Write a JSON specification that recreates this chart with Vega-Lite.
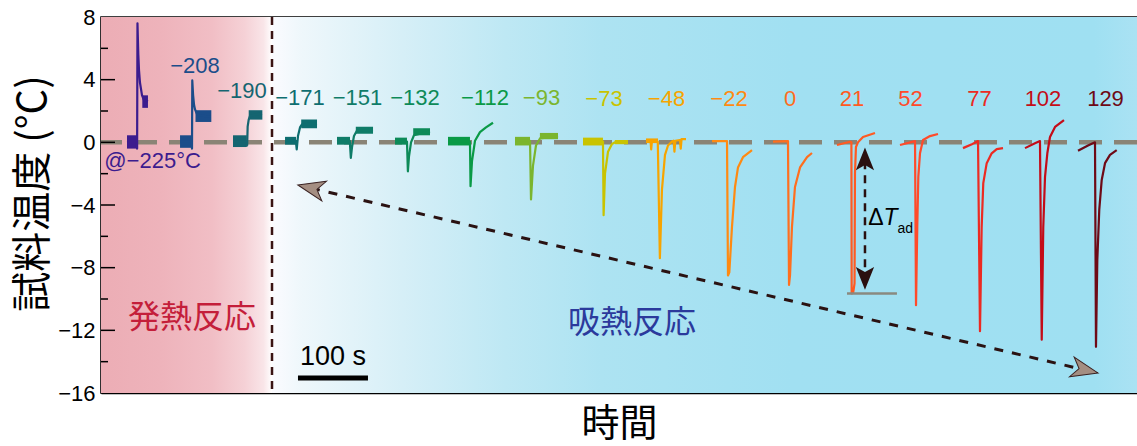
{
  "$schema": "https://vega.github.io/schema/vega-lite/v6.json",
  "width": 1036,
  "height": 376,
  "autosize": "none",
  "padding": {"left": 101, "top": 17, "right": 0, "bottom": 53},
  "background": "white",
  "config": {"view": {"stroke": "black", "strokeWidth": 1.5}},
  "data": {"values": [{"one": 1}]},
  "datasets": {
    "curves": [
      {"seg":"-225","t":37.1,"v":0.05},{"seg":"-225","t":51.2,"v":0.05},{"seg":"-225","t":51.6,"v":-0.4},{"seg":"-225","t":52.1,"v":7.6},{"seg":"-225","t":53.3,"v":5.6},{"seg":"-225","t":54.3,"v":4.6},{"seg":"-225","t":55.7,"v":3.8},{"seg":"-225","t":58.6,"v":3.0},{"seg":"-225","t":61.4,"v":2.7},{"seg":"-225","t":67.1,"v":2.6},
      {"seg":"-208","t":112.9,"v":0.05},{"seg":"-208","t":129.6,"v":0.05},{"seg":"-208","t":130.0,"v":-0.4},{"seg":"-208","t":130.4,"v":3.95},{"seg":"-208","t":131.6,"v":3.0},{"seg":"-208","t":132.9,"v":2.4},{"seg":"-208","t":134.3,"v":2.1},{"seg":"-208","t":137.1,"v":1.8},{"seg":"-208","t":141.4,"v":1.7},{"seg":"-208","t":157.1,"v":1.65},
      {"seg":"-190","t":188.6,"v":0.05},{"seg":"-190","t":208.3,"v":0.05},{"seg":"-190","t":208.8,"v":-0.2},{"seg":"-190","t":209.5,"v":1.0},{"seg":"-190","t":211.0,"v":1.45},{"seg":"-190","t":213.0,"v":1.7},{"seg":"-190","t":230.0,"v":1.85},
      {"seg":"-171","t":262.9,"v":0.1},{"seg":"-171","t":278.3,"v":0.1},{"seg":"-171","t":279.6,"v":-0.45},{"seg":"-171","t":281.4,"v":0.4},{"seg":"-171","t":284.3,"v":0.95},{"seg":"-171","t":287.1,"v":1.15},{"seg":"-171","t":308.6,"v":1.2},
      {"seg":"-151","t":337.1,"v":0.1},{"seg":"-151","t":355.4,"v":0.1},{"seg":"-151","t":356.9,"v":-1.0},{"seg":"-151","t":358.6,"v":-0.3},{"seg":"-151","t":361.4,"v":0.4},{"seg":"-151","t":365.7,"v":0.75},{"seg":"-151","t":388.6,"v":0.8},
      {"seg":"-132","t":420.0,"v":0.05},{"seg":"-132","t":437.1,"v":0.05},{"seg":"-132","t":438.4,"v":-1.85},{"seg":"-132","t":440.0,"v":-0.9},{"seg":"-132","t":442.9,"v":0.0},{"seg":"-132","t":447.1,"v":0.45},{"seg":"-132","t":470.0,"v":0.7},
      {"seg":"-112","t":495.7,"v":0.05},{"seg":"-112","t":527.1,"v":0.05},{"seg":"-112","t":527.9,"v":-2.8},{"seg":"-112","t":530.0,"v":-1.2},{"seg":"-112","t":534.3,"v":0.1},{"seg":"-112","t":541.4,"v":0.65},{"seg":"-112","t":550.0,"v":0.95},{"seg":"-112","t":560.0,"v":1.25},
      {"seg":"-93","t":591.4,"v":0.1},{"seg":"-93","t":612.9,"v":0.1},{"seg":"-93","t":614.3,"v":-3.65},{"seg":"-93","t":617.1,"v":-1.5},{"seg":"-93","t":621.4,"v":-0.2},{"seg":"-93","t":627.1,"v":0.25},{"seg":"-93","t":652.9,"v":0.4},
      {"seg":"-73","t":688.6,"v":0.05},{"seg":"-73","t":717.1,"v":0.05},{"seg":"-73","t":718.0,"v":-4.65},{"seg":"-73","t":720.0,"v":-2.0},{"seg":"-73","t":724.3,"v":-0.6},{"seg":"-73","t":730.0,"v":-0.1},{"seg":"-73","t":734.3,"v":0.0},{"seg":"-73","t":752.9,"v":0.0},
      {"seg":"-48","t":778.6,"v":0.1},{"seg":"-48","t":785.0,"v":0.1},{"seg":"-48","t":786.0,"v":-0.45},{"seg":"-48","t":787.1,"v":0.1},{"seg":"-48","t":795.4,"v":0.05},{"seg":"-48","t":798.4,"v":-7.4},{"seg":"-48","t":801.4,"v":-3.0},{"seg":"-48","t":805.7,"v":-0.8},{"seg":"-48","t":810.0,"v":-0.2},{"seg":"-48","t":815.7,"v":0.05},{"seg":"-48","t":818.0,"v":0.1},{"seg":"-48","t":819.2,"v":-0.6},{"seg":"-48","t":820.5,"v":0.1},{"seg":"-48","t":827.0,"v":0.15},{"seg":"-48","t":828.2,"v":-0.4},{"seg":"-48","t":829.4,"v":0.2},{"seg":"-48","t":835.7,"v":0.2},
      {"seg":"-22","t":872.9,"v":0.08},{"seg":"-22","t":894.3,"v":0.08},{"seg":"-22","t":895.7,"v":-8.5},{"seg":"-22","t":897.6,"v":-8.3},{"seg":"-22","t":901.4,"v":-5.4},{"seg":"-22","t":905.7,"v":-2.85},{"seg":"-22","t":910.0,"v":-1.6},{"seg":"-22","t":917.1,"v":-0.95},{"seg":"-22","t":930.0,"v":-0.5},
      {"seg":"0","t":960.0,"v":0.05},{"seg":"0","t":981.4,"v":0.08},{"seg":"0","t":982.9,"v":-9.1},{"seg":"0","t":984.3,"v":-8.5},{"seg":"0","t":987.1,"v":-5.4},{"seg":"0","t":991.4,"v":-2.85},{"seg":"0","t":998.6,"v":-1.6},{"seg":"0","t":1008.6,"v":-0.94},{"seg":"0","t":1015.7,"v":-0.68},
      {"seg":"21","t":1051.4,"v":-0.17},{"seg":"21","t":1070.0,"v":0.04},{"seg":"21","t":1072.0,"v":0.0},{"seg":"21","t":1072.4,"v":-9.65},{"seg":"21","t":1074.5,"v":-9.6},{"seg":"21","t":1076.5,"v":-9.0},{"seg":"21","t":1077.1,"v":-2.0},{"seg":"21","t":1078.5,"v":-0.3},{"seg":"21","t":1081.4,"v":0.0},{"seg":"21","t":1088.6,"v":0.34},{"seg":"21","t":1105.7,"v":0.6},
      {"seg":"52","t":1141.4,"v":-0.17},{"seg":"52","t":1162.9,"v":0.08},{"seg":"52","t":1164.3,"v":-10.4},{"seg":"52","t":1166.1,"v":-5.4},{"seg":"52","t":1167.6,"v":-2.2},{"seg":"52","t":1170.0,"v":-0.7},{"seg":"52","t":1174.3,"v":0.15},{"seg":"52","t":1184.3,"v":0.4},{"seg":"52","t":1195.7,"v":0.53},
      {"seg":"77","t":1231.4,"v":-0.37},{"seg":"77","t":1245.0,"v":-0.1},{"seg":"77","t":1252.9,"v":0.08},{"seg":"77","t":1255.7,"v":-12.05},{"seg":"77","t":1258.1,"v":-5.4},{"seg":"77","t":1260.4,"v":-2.6},{"seg":"77","t":1265.3,"v":-1.33},{"seg":"77","t":1272.4,"v":-0.7},{"seg":"77","t":1279.6,"v":-0.43},{"seg":"77","t":1288.6,"v":-0.37},
      {"seg":"102","t":1320.0,"v":-0.37},{"seg":"102","t":1335.0,"v":-0.05},{"seg":"102","t":1341.4,"v":0.08},{"seg":"102","t":1343.9,"v":-12.6},{"seg":"102","t":1346.1,"v":-5.4},{"seg":"102","t":1348.6,"v":-2.2},{"seg":"102","t":1351.9,"v":-0.7},{"seg":"102","t":1355.7,"v":0.34},{"seg":"102","t":1362.9,"v":0.98},{"seg":"102","t":1375.7,"v":1.42},
      {"seg":"129","t":1395.7,"v":-0.54},{"seg":"129","t":1410.0,"v":-0.2},{"seg":"129","t":1420.0,"v":0.0},{"seg":"129","t":1421.4,"v":-13.05},{"seg":"129","t":1423.3,"v":-7.5},{"seg":"129","t":1426.1,"v":-4.3},{"seg":"129","t":1429.6,"v":-2.4},{"seg":"129","t":1434.3,"v":-1.33},{"seg":"129","t":1441.4,"v":-0.8},{"seg":"129","t":1451.0,"v":-0.5}
    ],
    "blocks": [
      {"seg":"-225","t":37.1,"t2":51.4,"v":-0.4,"v2":0.45},{"seg":"-225","t":59.0,"t2":67.1,"v":2.2,"v2":3.0},
      {"seg":"-208","t":112.9,"t2":129.6,"v":-0.35,"v2":0.45},{"seg":"-208","t":135.0,"t2":157.6,"v":1.3,"v2":2.05},
      {"seg":"-190","t":188.6,"t2":208.3,"v":-0.3,"v2":0.45},{"seg":"-190","t":211.0,"t2":230.5,"v":1.45,"v2":2.05},
      {"seg":"-171","t":262.9,"t2":278.6,"v":-0.15,"v2":0.35},{"seg":"-171","t":286.0,"t2":308.6,"v":0.9,"v2":1.45},
      {"seg":"-151","t":337.1,"t2":355.7,"v":-0.15,"v2":0.35},{"seg":"-151","t":364.0,"t2":388.6,"v":0.55,"v2":1.0},
      {"seg":"-132","t":420.0,"t2":437.1,"v":-0.15,"v2":0.3},{"seg":"-132","t":446.0,"t2":470.0,"v":0.45,"v2":0.9},
      {"seg":"-112","t":495.7,"t2":527.1,"v":-0.2,"v2":0.35},
      {"seg":"-93","t":591.4,"t2":612.9,"v":-0.2,"v2":0.35},{"seg":"-93","t":627.0,"t2":652.9,"v":0.2,"v2":0.6},
      {"seg":"-73","t":688.6,"t2":717.1,"v":-0.2,"v2":0.3},{"seg":"-73","t":734.0,"t2":752.9,"v":-0.12,"v2":0.15},
      {"seg":"-48","t":778.6,"t2":795.7,"v":-0.05,"v2":0.25}
    ],
    "labels": [
      {"seg":"-225","t":73.6,"v":-1.16,"txt":"@−225°C"},
      {"seg":"-208","t":134.3,"v":4.87,"txt":"−208"},
      {"seg":"-190","t":201.4,"v":3.27,"txt":"−190"},
      {"seg":"-171","t":284.3,"v":2.8,"txt":"−171"},
      {"seg":"-151","t":366.4,"v":2.8,"txt":"−151"},
      {"seg":"-132","t":448.6,"v":2.8,"txt":"−132"},
      {"seg":"-112","t":548.6,"v":2.8,"txt":"−112"},
      {"seg":"-93","t":629.3,"v":2.8,"txt":"−93"},
      {"seg":"-73","t":718.6,"v":2.78,"txt":"−73"},
      {"seg":"-48","t":807.9,"v":2.78,"txt":"−48"},
      {"seg":"-22","t":897.1,"v":2.78,"txt":"−22"},
      {"seg":"0","t":984.3,"v":2.78,"txt":"0"},
      {"seg":"21","t":1072.9,"v":2.78,"txt":"21"},
      {"seg":"52","t":1156.4,"v":2.78,"txt":"52"},
      {"seg":"77","t":1255.0,"v":2.78,"txt":"77"},
      {"seg":"102","t":1345.7,"v":2.78,"txt":"102"},
      {"seg":"129","t":1435.0,"v":2.78,"txt":"129"}
    ],
    "majorTicks": [{"v":-12},{"v":-8},{"v":-4},{"v":0},{"v":4}],
    "minorTicks": [{"v":-14},{"v":-10},{"v":-6},{"v":-2},{"v":2},{"v":6}]
  },
  "layer": [
    {
      "mark": {"type": "rect", "color": {"gradient": "linear", "x1": 0, "y1": 0, "x2": 1, "y2": 0, "stops": [
        {"offset": 0, "color": "#ECADB5"}, {"offset": 0.35, "color": "#EEB3BB"}, {"offset": 0.65, "color": "#F1BEC5"},
        {"offset": 0.84, "color": "#F5D1D6"}, {"offset": 0.95, "color": "#F9E5E8"}, {"offset": 1, "color": "#FFFFFF"}]}},
      "encoding": {
        "x": {"datum": 0, "type": "quantitative", "scale": {"domain": [0, 1480], "nice": false, "zero": false},
          "axis": {"title": "時間", "labels": false, "ticks": false, "grid": false, "domainColor": "black", "domainWidth": 1.5,
            "titleFont": "Noto Sans CJK JP", "titleFontSize": 38, "titleFontWeight": "normal", "titleColor": "black",
            "titleY": 31, "titleBaseline": "middle"}},
        "x2": {"datum": 244.3},
        "y": {"datum": -16, "type": "quantitative", "scale": {"domain": [-16, 8], "nice": false, "zero": false},
          "axis": {"values": [-16, -12, -8, -4, 0, 4, 8], "ticks": false, "grid": false, "labelFont": "Liberation Sans",
            "labelFontSize": 22, "labelColor": "black", "labelPadding": 6, "domainColor": "black", "domainWidth": 1.5,
            "title": "試料温度 (°C)", "titleFont": "Noto Sans CJK JP", "titleFontSize": 40, "titleFontWeight": "normal",
            "titleColor": "black", "titleX": -68, "titleY": 176, "titleAngle": -90, "titleAlign": "center", "titleBaseline": "middle"}},
        "y2": {"datum": 8}
      }
    },
    {
      "mark": {"type": "rect", "color": {"gradient": "linear", "x1": 0, "y1": 0, "x2": 1, "y2": 0, "stops": [
        {"offset": 0, "color": "#FBFBFF"}, {"offset": 0.035, "color": "#EEF7FB"}, {"offset": 0.15, "color": "#D6EFF7"},
        {"offset": 0.27, "color": "#BEE8F4"}, {"offset": 0.38, "color": "#ADE3F2"}, {"offset": 0.6, "color": "#A1E0F2"},
        {"offset": 0.95, "color": "#9FE0F2"}, {"offset": 1, "color": "#AAE2F3"}]}},
      "encoding": {"x": {"datum": 244.3}, "x2": {"datum": 1480}, "y": {"datum": -16}, "y2": {"datum": 8}}
    },
    {
      "mark": {"type": "rule", "color": "#3A1414", "strokeWidth": 2.5, "strokeDash": [8, 6]},
      "encoding": {"x": {"datum": 244.3}}
    },
    {
      "mark": {"type": "rule", "color": "#8A8476", "strokeWidth": 4.5, "strokeDash": [23, 12]},
      "encoding": {"y": {"datum": 0}}
    },
    {
      "data": {"name": "majorTicks"},
      "mark": {"type": "rule", "color": "black", "strokeWidth": 1.5},
      "encoding": {"y": {"field": "v", "type": "quantitative"}, "x": {"datum": 0}, "x2": {"datum": 20}}
    },
    {
      "data": {"name": "minorTicks"},
      "mark": {"type": "rule", "color": "black", "strokeWidth": 1.5},
      "encoding": {"y": {"field": "v", "type": "quantitative"}, "x": {"datum": 0}, "x2": {"datum": 10}}
    },
    {
      "data": {"name": "blocks"},
      "mark": {"type": "rect"},
      "encoding": {
        "x": {"field": "t", "type": "quantitative"}, "x2": {"field": "t2"},
        "y": {"field": "v", "type": "quantitative"}, "y2": {"field": "v2"},
        "color": {"field": "seg", "type": "nominal", "legend": null, "scale": {
          "domain": ["-225","-208","-190","-171","-151","-132","-112","-93","-73","-48","-22","0","21","52","77","102","129"],
          "range": ["#3C1C8E","#1B4D8A","#156571","#0E6E70","#0F7C68","#0D8A58","#0A9A46","#7BB52E","#C9C300","#F7A400","#FF8A12","#FF6E1E","#FF5A22","#FF4A2A","#EC2A22","#C40C18","#6E0A16"]}}
      }
    },
    {
      "data": {"name": "curves"},
      "mark": {"type": "line", "strokeWidth": 2.2, "strokeJoin": "round"},
      "encoding": {
        "x": {"field": "t", "type": "quantitative"},
        "y": {"field": "v", "type": "quantitative"},
        "color": {"field": "seg", "type": "nominal", "legend": null, "scale": {
          "domain": ["-225","-208","-190","-171","-151","-132","-112","-93","-73","-48","-22","0","21","52","77","102","129"],
          "range": ["#3C1C8E","#1B4D8A","#156571","#0E6E70","#0F7C68","#0D8A58","#0A9A46","#7BB52E","#C9C300","#F7A400","#FF8A12","#FF6E1E","#FF5A22","#FF4A2A","#EC2A22","#C40C18","#6E0A16"]}}
      }
    },
    {
      "data": {"name": "labels"},
      "mark": {"type": "text", "font": "Liberation Sans", "fontSize": 22, "align": "center", "baseline": "middle"},
      "encoding": {
        "x": {"field": "t", "type": "quantitative"},
        "y": {"field": "v", "type": "quantitative"},
        "text": {"field": "txt"},
        "color": {"field": "seg", "type": "nominal", "legend": null, "scale": {
          "domain": ["-225","-208","-190","-171","-151","-132","-112","-93","-73","-48","-22","0","21","52","77","102","129"],
          "range": ["#4A2AA0","#1B4D8A","#156571","#0E6E70","#0F7C68","#0D8A58","#0A9A46","#7BB52E","#C9C300","#F7A400","#FF8A12","#FF6E1E","#FF5A22","#FF4A2A","#EC2A22","#C40C18","#6E0A16"]}}
      }
    },
    {
      "mark": {"type": "text", "text": "発熱反応", "font": "Noto Sans CJK JP", "fontSize": 32, "color": "#C41E3A", "align": "center", "baseline": "middle"},
      "encoding": {"x": {"datum": 130}, "y": {"datum": -11.2}}
    },
    {
      "mark": {"type": "text", "text": "吸熱反応", "font": "Noto Sans CJK JP", "fontSize": 32, "color": "#2B3A9C", "align": "center", "baseline": "middle"},
      "encoding": {"x": {"datum": 758.6}, "y": {"datum": -11.55}}
    },
    {
      "mark": {"type": "rule", "color": "black", "strokeWidth": 5},
      "encoding": {"x": {"datum": 281.4}, "x2": {"datum": 381.4}, "y": {"datum": -15.04}}
    },
    {
      "mark": {"type": "text", "text": "100 s", "font": "Liberation Sans", "fontSize": 27, "color": "black", "align": "center", "baseline": "middle"},
      "encoding": {"x": {"datum": 331.4}, "y": {"datum": -13.7}}
    },
    {
      "mark": {"type": "rule", "color": "#2A1212", "strokeWidth": 3, "strokeDash": [9, 9]},
      "encoding": {"x": {"datum": 300}, "y": {"datum": -2.92}, "x2": {"datum": 1405.7}, "y2": {"datum": -14.53}}
    },
    {
      "mark": {"type": "point", "shape": "M0,-1L0.75,1L0,0.45L-0.75,1Z", "size": 729, "angle": 283.2, "filled": true, "fill": "#A48E82", "stroke": "#3A2222", "strokeWidth": 1, "opacity": 1},
      "encoding": {"x": {"datum": 300}, "y": {"datum": -2.92}}
    },
    {
      "mark": {"type": "point", "shape": "M0,-1L0.75,1L0,0.45L-0.75,1Z", "size": 729, "angle": 103.2, "filled": true, "fill": "#A48E82", "stroke": "#3A2222", "strokeWidth": 1, "opacity": 1},
      "encoding": {"x": {"datum": 1405.7}, "y": {"datum": -14.53}}
    },
    {
      "mark": {"type": "rule", "color": "#8A8A80", "strokeWidth": 2.5},
      "encoding": {"x": {"datum": 1065.7}, "x2": {"datum": 1137.1}, "y": {"datum": -9.65}}
    },
    {
      "mark": {"type": "rule", "color": "#2A1010", "strokeWidth": 2.5, "strokeDash": [8, 6]},
      "encoding": {"x": {"datum": 1091.4}, "y": {"datum": -1.2}, "y2": {"datum": -8.5}}
    },
    {
      "mark": {"type": "point", "shape": "M0,-1L0.8,1L0,0.55L-0.8,1Z", "size": 520, "angle": 0, "filled": true, "fill": "#2A1010", "opacity": 1},
      "encoding": {"x": {"datum": 1091.4}, "y": {"datum": -1.05}}
    },
    {
      "mark": {"type": "point", "shape": "M0,-1L0.8,1L0,0.55L-0.8,1Z", "size": 520, "angle": 180, "filled": true, "fill": "#2A1010", "opacity": 1},
      "encoding": {"x": {"datum": 1091.4}, "y": {"datum": -8.68}}
    },
    {
      "mark": {"type": "text", "text": "Δ", "font": "Liberation Sans", "fontSize": 23, "color": "black", "align": "center", "baseline": "middle"},
      "encoding": {"x": {"datum": 1106.9}, "y": {"datum": -4.85}}
    },
    {
      "mark": {"type": "text", "text": "T", "font": "Liberation Sans", "fontStyle": "italic", "fontSize": 23, "color": "black", "align": "center", "baseline": "middle"},
      "encoding": {"x": {"datum": 1127.9}, "y": {"datum": -4.85}}
    },
    {
      "mark": {"type": "text", "text": "ad", "font": "Liberation Sans", "fontSize": 14, "color": "black", "align": "center", "baseline": "middle"},
      "encoding": {"x": {"datum": 1149}, "y": {"datum": -5.56}}
    }
  ]
}
